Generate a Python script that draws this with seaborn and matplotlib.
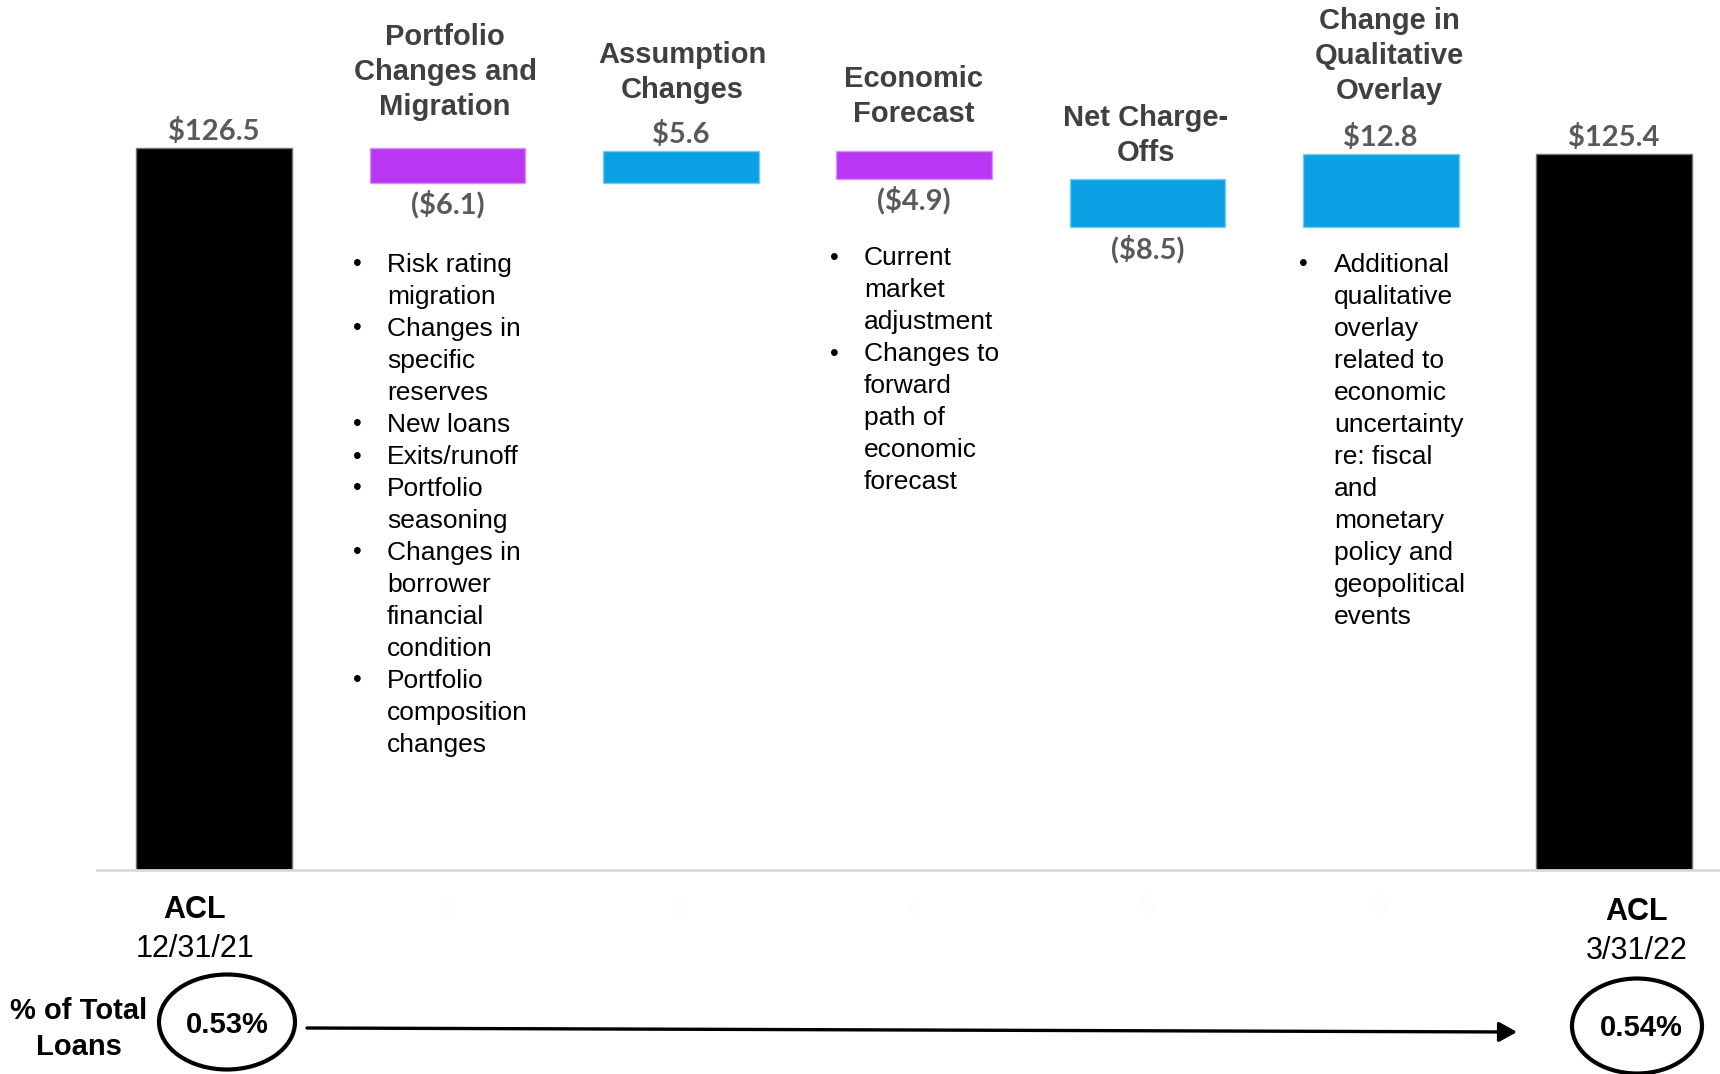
import matplotlib
matplotlib.use("Agg")
import matplotlib.pyplot as plt
import matplotlib.colors as mcolors
from matplotlib.patches import Ellipse, FancyArrowPatch
import seaborn as sns
import pandas as pd

# ---------------- data ----------------
steps = ["ACL 12/31/21", "Portfolio Changes and Migration", "Assumption Changes",
         "Economic Forecast", "Net Charge-Offs", "Change in Qualitative Overlay", "ACL 3/31/22"]
start_acl = 126.5
changes = [-6.1, 5.6, -4.9, -8.5, 12.8]
end_acl = 125.4
value_labels = ["$126.5", "($6.1)", "$5.6", "($4.9)", "($8.5)", "$12.8", "$125.4"]
bar_colors = ["#000000", "#B936F2", "#0AA0E4", "#B936F2", "#0AA0E4", "#0AA0E4", "#000000"]
headers = [[], ["Portfolio", "Changes and", "Migration"], ["Assumption", "Changes"],
           ["Economic", "Forecast"], ["Net Charge-", "Offs"],
           ["Change in", "Qualitative", "Overlay"], []]
hidden_ticks = ["", "2", "3", "4", "5", "6", ""]
portfolio_notes = [["Risk rating", "migration"], ["Changes in", "specific", "reserves"],
                   ["New loans"], ["Exits/runoff"], ["Portfolio", "seasoning"],
                   ["Changes in", "borrower", "financial", "condition"],
                   ["Portfolio", "composition", "changes"]]
economic_notes = [["Current", "market", "adjustment"],
                  ["Changes to", "forward", "path of", "economic", "forecast"]]
qualitative_notes = [["Additional", "qualitative", "overlay", "related to", "economic",
                      "uncertainty", "re: fiscal", "and", "monetary", "policy and",
                      "geopolitical", "events"]]
start_label = ["ACL", "12/31/21"]
end_label = ["ACL", "3/31/22"]
pct_label = ["% of Total", "Loans"]
pct_start = "0.53%"
pct_end = "0.54%"

# ---------------- waterfall geometry ----------------
bottoms, heights = [0.0], [start_acl]
running = start_acl
for c in changes:
    bottoms.append(running + min(c, 0))
    heights.append(abs(c))
    running += c
bottoms.append(0.0)
heights.append(end_acl)
tops = [b + h for b, h in zip(bottoms, heights)]
label_above = [True] + [c > 0 for c in changes] + [True]

df = pd.DataFrame({"step": steps, "height": heights})

# ---------------- figure ----------------
sns.set_theme(style="white")
plt.rcParams["font.family"] = ["Liberation Sans", "DejaVu Sans"]

W, H = 1720, 1074
fig = plt.figure(figsize=(W / 100, H / 100), dpi=100)
fig.patch.set_facecolor("white")
ax = fig.add_axes([97 / W, 1 - 870 / H, 1 - 97 / W, 870 / H])

sns.barplot(data=df, x="step", y="height", order=steps, bottom=bottoms, width=0.667,
            color="black", saturation=1, errorbar=None, ax=ax)
for patch, col in zip(ax.patches, bar_colors):
    rgb = mcolors.to_rgb(col)
    edge = tuple(0.55 * v + 0.45 for v in rgb)
    patch.set_facecolor(col)
    patch.set_edgecolor(edge)
    patch.set_linewidth(1.0)

ax.set_xlim(-0.5015, 6.454)
ax.set_ylim(0, 152.4)
sns.despine(ax=ax, left=True)
ax.spines["bottom"].set_color("#d9d9d9")
ax.spines["bottom"].set_linewidth(2)
ax.set_yticks([])
ax.set_xticks(range(len(steps)))
ax.set_xticklabels(hidden_ticks)
ax.tick_params(axis="x", length=0, pad=17, labelsize=20, labelcolor="#fcfcfc")
ax.set_xlabel("")
ax.set_ylabel("")

# value labels
for i, (lab, top, bot, up) in enumerate(zip(value_labels, tops, bottoms, label_above)):
    if up:
        ax.annotate(lab, xy=(i, top), xytext=(0, 12), textcoords="offset points",
                    ha="center", va="center", fontsize=21, fontweight="bold",
                    family=["Lato", "DejaVu Sans"], color="#595959")
    else:
        ax.annotate(lab, xy=(i, bot), xytext=(0, -15.5), textcoords="offset points",
                    ha="center", va="center", fontsize=21, fontweight="bold",
                    family=["Lato", "DejaVu Sans"], color="#595959")


def put(x, y, s, size, ha="center", **kw):
    """Place text with its visual centre at figure pixel (x, y from top)."""
    base = y + 0.34 * size * 100 / 72
    fig.text(x / W, 1 - base / H, s, fontsize=size, ha=ha, va="baseline", **kw)


# headers
header_x = [0, 445, 682, 914, 1146, 1389, 0]
header_y0 = [0, 35, 53, 77, 116, 19, 0]
for lines, hx, hy in zip(headers, header_x, header_y0):
    for k, line in enumerate(lines):
        put(hx, hy + k * 35.2, line, 21, fontweight="bold", color="#404040")


# bullet notes
def notes(groups, xb, xt, y0, step=32.0):
    k = 0
    for grp in groups:
        put(xb, y0 + k * step, "\u2022", 18, ha="center", color="black")
        for line in grp:
            put(xt, y0 + k * step, line, 19, ha="left", color="black")
            k += 1


notes(portfolio_notes, 357, 387, 263)
notes(economic_notes, 834, 864, 256)
notes(qualitative_notes, 1303, 1334, 263)

# bottom labels
put(195, 908, start_label[0], 22, fontweight="bold", color="black")
put(195, 947, start_label[1], 22, color="black")
put(1637, 910, end_label[0], 22, fontweight="bold", color="black")
put(1637, 949, end_label[1], 22, color="black")
put(79, 1009, pct_label[0], 21, fontweight="bold", color="black")
put(79, 1045, pct_label[1], 21, fontweight="bold", color="black")
put(227, 1023, pct_start, 21, fontweight="bold", color="black")
put(1641, 1026, pct_end, 21, fontweight="bold", color="black")

# circles
for cx, cy, w, h in [(227, 1022, 136, 95), (1637, 1026, 130, 95)]:
    fig.add_artist(Ellipse((cx / W, 1 - cy / H), w / W, h / H, transform=fig.transFigure,
                           fill=False, edgecolor="black", linewidth=3.0))

# arrow
fig.add_artist(FancyArrowPatch((307 / W, 1 - 1028 / H), (1517 / W, 1 - 1032 / H),
                               transform=fig.transFigure,
                               arrowstyle="-|>,head_length=1.08,head_width=0.6",
                               mutation_scale=10, linewidth=2.4, color="black",
                               shrinkA=0, shrinkB=0))

fig.savefig("out.png", dpi=100, facecolor="white")
